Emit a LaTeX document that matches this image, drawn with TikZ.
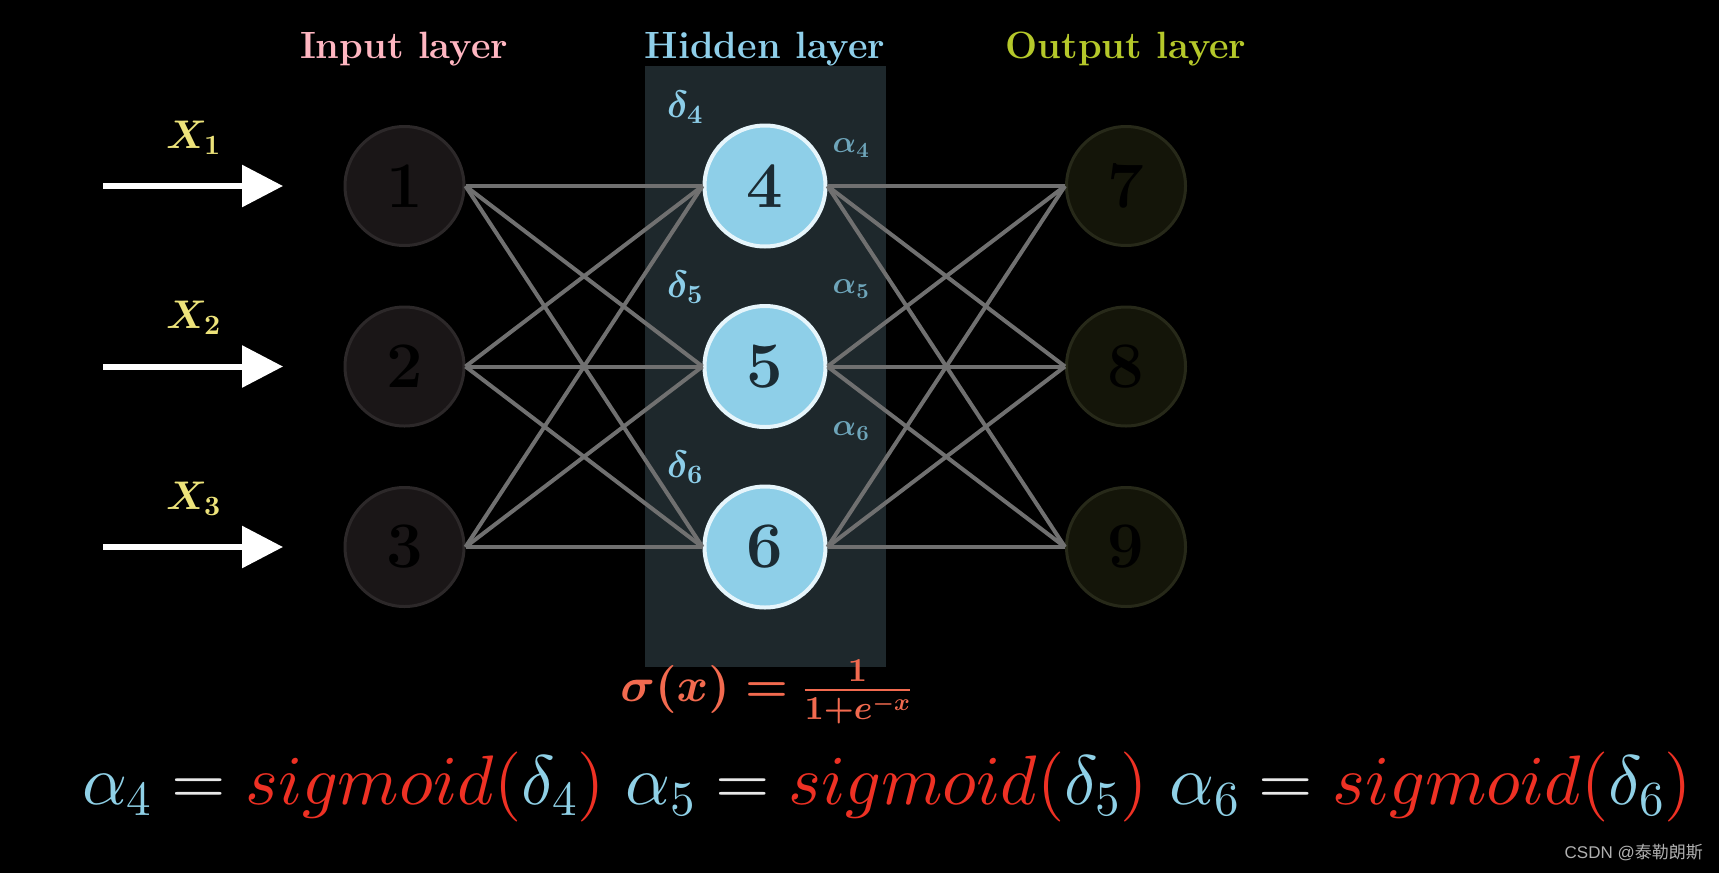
\documentclass[tikz,border=0pt]{standalone}
\usepackage{amsmath,bm}
\usepackage{fontspec}
\DeclareFontShape{OT1}{cmr}{m}{n}{<-> cmr10}{}
\DeclareFontShape{OT1}{cmr}{bx}{n}{<-> cmbx10}{}
\DeclareFontShape{OML}{cmm}{m}{it}{<-> cmmi10}{}
\DeclareFontShape{OML}{cmm}{b}{it}{<-> cmmib10}{}
\DeclareFontShape{OMS}{cmsy}{m}{n}{<-> cmsy10}{}
\DeclareFontShape{OMS}{cmsy}{b}{n}{<-> cmbsy10}{}
\DeclareFontShape{OMX}{cmex}{m}{n}{<-> cmex10}{}
\newfontfamily\cjkfont{Noto Sans CJK SC}
\newfontfamily\lsansfont{Liberation Sans}
\usetikzlibrary{arrows.meta}
\newcommand\fsz[1]{\fontsize{#1}{#1}\selectfont}
\definecolor{tpink}{HTML}{FFB6C1}
\definecolor{tblue}{HTML}{8FCFEA}
\definecolor{tgreen}{HTML}{B5C82A}
\definecolor{xyellow}{HTML}{EDE37A}
\definecolor{boxcol}{HTML}{1E282C}
\definecolor{linecol}{HTML}{707070}
\definecolor{inf}{HTML}{1A1617}
\definecolor{inb}{HTML}{2C2829}
\definecolor{outf}{HTML}{141509}
\definecolor{outb}{HTML}{272919}
\definecolor{hidf}{HTML}{8ECFE8}
\definecolor{hidb}{HTML}{E6F5FB}
\definecolor{hidnum}{HTML}{1B2B33}
\definecolor{dcol}{HTML}{8CCDE8}
\definecolor{acol}{HTML}{6EA5BA}
\definecolor{sigcol}{HTML}{F26A4F}
\definecolor{eqblue}{HTML}{8FD0E6}
\definecolor{eqred}{HTML}{EE3124}
\definecolor{eqwhite}{HTML}{E8E8E8}
\definecolor{wmcol}{HTML}{B0B0B0}
\begin{document}
\begin{tikzpicture}[x=1pt,y=-1pt,
  innode/.style={circle, minimum size=119pt, inner sep=0pt, line width=3pt, draw=inb, fill=inf, text=black, font=\fsz{65}\bfseries},
  outnode/.style={circle, minimum size=119pt, inner sep=0pt, line width=3pt, draw=outb, fill=outf, text=black, font=\fsz{65}\bfseries},
  hidnode/.style={circle, minimum size=121pt, inner sep=0pt, line width=4pt, draw=hidb, fill=hidf, text=hidnum, font=\fsz{65}\bfseries},
  conn/.style={draw=linecol, line width=4pt},
  inarrow/.style={draw=white, line width=6pt, -{Triangle[length=41pt,width=41pt]}},
  title/.style={inner sep=0pt, anchor=base, font=\fsz{38}\bfseries},
  xlab/.style={inner sep=0pt, anchor=base west, text=xyellow, font=\fsz{40}\boldmath},
  dlab/.style={inner sep=0pt, text=dcol, font=\fsz{38}\boldmath},
  alab/.style={inner sep=0pt, text=acol, font=\fsz{31}\boldmath}
]
\fill[black] (0,0) rectangle (1719,873);
\useasboundingbox (0,0) rectangle (1719,873);

% hidden layer panel
\fill[boxcol] (645,66) rectangle (886,667);

% titles
\node[title, text=tpink] (tin) at (404,58) {Input layer};
\node[title, text=tblue] (thid) at (765,58) {Hidden layer};
\node[title, text=tgreen] (tout) at (1126,58) {Output layer};

% nodes
\node[innode] (n1) at (404.5,186) {1};
\node[innode] (n2) at (404.5,366.5) {2};
\node[innode] (n3) at (404.5,547) {3};
\node[hidnode] (n4) at (765,186) {4};
\node[hidnode] (n5) at (765,366.5) {5};
\node[hidnode] (n6) at (765,547) {6};
\node[outnode] (n7) at (1126,186) {7};
\node[outnode] (n8) at (1126,366.5) {8};
\node[outnode] (n9) at (1126,547) {9};

% connections
\foreach \i in {n1,n2,n3}{
  \foreach \j in {n4,n5,n6}{
    \draw[conn] (\i.east) -- (\j.west);
  }
}
\foreach \i in {n4,n5,n6}{
  \foreach \j in {n7,n8,n9}{
    \draw[conn] (\i.east) -- (\j.west);
  }
}

% input arrows
\coordinate (a1) at (103,186);   \coordinate (b1) at (283,186);
\coordinate (a2) at (103,366.5); \coordinate (b2) at (283,366.5);
\coordinate (a3) at (103,547);   \coordinate (b3) at (283,547);
\draw[inarrow] (a1) -- (b1);
\draw[inarrow] (a2) -- (b2);
\draw[inarrow] (a3) -- (b3);
\node[xlab] (x1) at (166,148) {$X_1$};
\node[xlab] (x2) at (166,328.5) {$X_2$};
\node[xlab] (x3) at (166,509) {$X_3$};

% delta / alpha labels
\node[dlab] (d4) at (685,107) {$\delta_4$};
\node[dlab] (d5) at (685,287) {$\delta_5$};
\node[dlab] (d6) at (685,467) {$\delta_6$};
\node[alab] (al4) at (851,148) {$\alpha_4$};
\node[alab] (al5) at (851,289) {$\alpha_5$};
\node[alab] (al6) at (851,431) {$\alpha_6$};

% sigmoid formula
\node[inner sep=0pt, text=sigcol, font=\fsz{48}\boldmath] (sig) at (766,692) {$\sigma(x) = \frac{1}{1+e^{-x}}$};

% bottom equation
\node[inner sep=0pt, font=\fsz{70}] (eq) at (887,787) {$\color{eqblue}\alpha_4 \color{eqwhite}= \color{eqred}sigmoid(\color{eqblue}\delta_4\color{eqred})\ \color{eqblue}\alpha_5 \color{eqwhite}= \color{eqred}sigmoid(\color{eqblue}\delta_5\color{eqred})\ \color{eqblue}\alpha_6 \color{eqwhite}= \color{eqred}sigmoid(\color{eqblue}\delta_6\color{eqred})$};

% watermark
\node[inner sep=0pt, anchor=east, text=wmcol, font=\fsz{17}] (wm) at (1703,853) {\lsansfont CSDN @\cjkfont 泰勒朗斯};
\end{tikzpicture}
\end{document}
